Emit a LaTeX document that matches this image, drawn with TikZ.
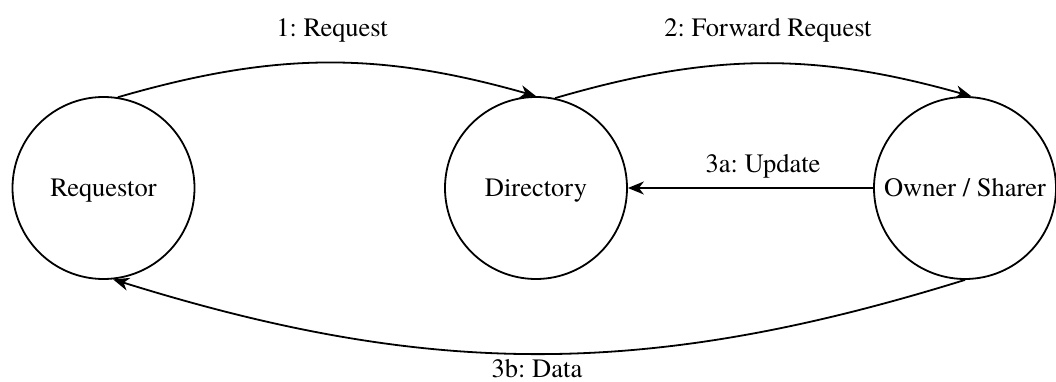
\documentclass[tikz,border=0pt]{standalone}
\usepackage{fontspec}
\setmainfont{texgyretermes}[Extension=.otf, UprightFont=*-regular, BoldFont=*-bold]
\usetikzlibrary{arrows.meta}
\frenchspacing
\begin{document}
\begin{tikzpicture}[x=1pt,y=1pt,
  state/.style={draw, circle, line width=0.9pt, minimum size=91pt, inner sep=0pt,
    font=\fontsize{13.25}{16}\selectfont, text height=8.7pt, text depth=0pt},
  msg/.style={-{Stealth[length=8pt,width=6.5pt,inset=2.5pt]}, line width=0.9pt},
  lbl/.style={font=\fontsize{13.25}{16}\selectfont, anchor=base, inner sep=0pt}]
\useasboundingbox (0,0) rectangle (528,190.5);

% the three agents of the protocol
\node[state] (req) at (51.75,96.5) {Requestor};
\node[state] (dir) at (268,96.5) {Directory};
\node[state] (own) at (482.5,96.5) {Owner / Sharer};

% messages
\draw[msg] (req.81) to[bend left=16] (dir.90);
\draw[msg] (dir.78) to[bend left=16] (own.86);
\draw[msg] (own.west) -- (dir.east);
\draw[msg] (own.270) to[bend left=17.3] (req.276);

% message labels
\node[lbl] (l1) at (166,172) {1: Request};
\node[lbl] (l2) at (384,172) {2: Forward Request};
\node[lbl] (l3a) at (381.5,104) {3a: Update};
\node[lbl] (l3b) at (268.5,1.8) {3b: Data};
\end{tikzpicture}
\end{document}
